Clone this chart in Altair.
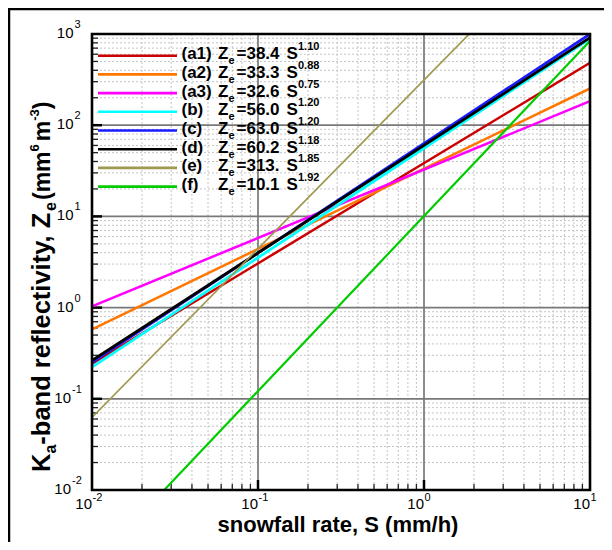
import altair as alt
import pandas as pd

FONT = "Liberation Sans"

# ---------------- data ----------------
series = ["a1", "a2", "a3", "b", "c", "d", "e", "f"]
label_ids = ["(a1)", "(a2)", "(a3)", "(b)", "(c)", "(d)", "(e)", "(f)"]
coef_labels = ["=38.4", "=33.3", "=32.6", "=56.0", "=63.0", "=60.2", "=313.", "=10.1"]
exp_labels = ["1.10", "0.88", "0.75", "1.20", "1.20", "1.18", "1.85", "1.92"]
s_low = [0.01] * 8
s_high = [10.0] * 8
z_low = [0.2423, 0.5787, 1.031, 0.2229, 0.2508, 0.2628, 0.06245, 0.00146]
z_high = [483.4, 252.6, 183.3, 887.5, 998.5, 911.2, 22158.0, 840.2]
colors = ["#cc0000", "#ff7700", "#ff00ff", "#00ffff", "#1a1aff", "#000000", "#a09a50", "#00cc00"]
line_w = [2.5, 2.5, 2.5, 2.8, 2.8, 2.8, 1.7, 2.2]

x_major = [0.1, 1.0]
y_major = [0.1, 1.0, 10.0, 100.0]
x_minor = [m * 10.0 ** k for k in (-2, -1, 0) for m in range(2, 10)]
y_minor = [m * 10.0 ** k for k in (-2, -1, 0, 1, 2) for m in range(2, 10)]
x_tick_vals = [0.01, 0.1, 1.0, 10.0]
x_tick_exp = ["-2", "-1", "0", "1"]
y_tick_vals = [0.01, 0.1, 1.0, 10.0, 100.0, 1000.0]
y_tick_exp = ["-2", "-1", "0", "1", "2", "3"]

W, H = 498, 456

xs = alt.Scale(type="log", domain=[0.01, 10], nice=False)
ys = alt.Scale(type="log", domain=[0.01, 1000], nice=False)

# Arial-bold advance widths (per 1000 em) for layout of rich text pieces
AW = {" ": 278, "(": 333, ")": 333, "-": 333, ",": 278, ".": 278, "/": 278, "=": 584,
      "a": 556, "b": 611, "c": 556, "d": 611, "e": 556, "f": 333, "h": 611, "i": 278,
      "l": 278, "m": 889, "n": 611, "o": 611, "r": 389, "s": 556, "t": 333, "v": 556,
      "w": 778, "y": 556, "K": 722, "S": 667, "Z": 611}
for dgt in "0123456789":
    AW[dgt] = 556


def tw(s, size):
    return sum(AW.get(ch, 556) for ch in s) / 1000.0 * size


dummy = alt.Data(values=[{"k": 0}])


def T(text, x, y, size, bold=True, angle=0, align="left", baseline="alphabetic"):
    return alt.Chart(dummy).mark_text(
        text=text, fontSize=size, fontWeight="bold" if bold else "normal", font=FONT,
        angle=angle, align=align, baseline=baseline, color="black"
    ).encode(x=alt.value(x), y=alt.value(y))


# ---------------- grid ----------------
minor_x = alt.Chart(pd.DataFrame({"v": x_minor})).mark_rule(
    color="#c4c4c4", strokeWidth=1, strokeDash=[2, 2]).encode(x=alt.X("v:Q", scale=xs, axis=None))
minor_y = alt.Chart(pd.DataFrame({"v": y_minor})).mark_rule(
    color="#c4c4c4", strokeWidth=1, strokeDash=[2, 2]).encode(y=alt.Y("v:Q", scale=ys, axis=None))
major_x = alt.Chart(pd.DataFrame({"v": x_major})).mark_rule(
    color="#787878", strokeWidth=1.7).encode(x=alt.X("v:Q", scale=xs, axis=None))
major_y = alt.Chart(pd.DataFrame({"v": y_major})).mark_rule(
    color="#787878", strokeWidth=1.7).encode(y=alt.Y("v:Q", scale=ys, axis=None))

# ---------------- ticks (inside, left & bottom) ----------------
tick_minor_y = alt.Chart(pd.DataFrame({"v": y_minor})).mark_rule(color="#222222", strokeWidth=1.3).encode(
    y=alt.Y("v:Q", scale=ys, axis=None), x=alt.value(0), x2=alt.value(6))
tick_major_y = alt.Chart(pd.DataFrame({"v": y_major})).mark_rule(color="black", strokeWidth=2.5).encode(
    y=alt.Y("v:Q", scale=ys, axis=None), x=alt.value(0), x2=alt.value(10))
tick_minor_x = alt.Chart(pd.DataFrame({"v": x_minor})).mark_rule(color="#222222", strokeWidth=1.3).encode(
    x=alt.X("v:Q", scale=xs, axis=None), y=alt.value(H), y2=alt.value(H - 6))
tick_major_x = alt.Chart(pd.DataFrame({"v": x_major})).mark_rule(color="black", strokeWidth=2.5).encode(
    x=alt.X("v:Q", scale=xs, axis=None), y=alt.value(H), y2=alt.value(H - 10))

# ---------------- curves ----------------
rows = []
for i, s in enumerate(series):
    rows.append({"series": s, "S": s_low[i], "Z": z_low[i], "w": line_w[i], "o": i})
    rows.append({"series": s, "S": s_high[i], "Z": z_high[i], "w": line_w[i], "o": i})
lines_df = pd.DataFrame(rows)
curves = alt.Chart(lines_df).mark_line(clip=True).encode(
    x=alt.X("S:Q", scale=xs, axis=None),
    y=alt.Y("Z:Q", scale=ys, axis=None),
    color=alt.Color("series:N", scale=alt.Scale(domain=series, range=colors), legend=None),
    strokeWidth=alt.StrokeWidth("w:Q", scale=None),
    detail="series:N",
)

# ---------------- legend (inside plot) ----------------
leg_y = [10 ** (3 - (21.7 + 18.7 * i) / 91.2) for i in range(8)]
leg_df = pd.DataFrame({"series": series, "id": label_ids, "coef": coef_labels,
                       "exp": exp_labels, "ly": leg_y})
leg_lines = alt.Chart(leg_df).mark_rule(strokeWidth=2.6).encode(
    y=alt.Y("ly:Q", scale=ys, axis=None), x=alt.value(6), x2=alt.value(85),
    color=alt.Color("series:N", scale=alt.Scale(domain=series, range=colors), legend=None))


def leg_text(field, x, size, dy, const=None):
    m = alt.Chart(leg_df).mark_text(align="left", baseline="middle", fontSize=size,
                                    fontWeight="bold", font=FONT, dy=dy, color="black",
                                    **({"text": const} if const else {}))
    enc = dict(y=alt.Y("ly:Q", scale=ys, axis=None), x=alt.value(x))
    if not const:
        enc["text"] = alt.Text(field + ":N")
    return m.encode(**enc)


leg_parts = [
    leg_text("id", 89.5, 17, -1.5),
    leg_text(None, 126, 17, -1.5, const="Z"),
    leg_text(None, 136.5, 11, 5.5, const="e"),
    leg_text("coef", 144.5, 17, -1.5),
    leg_text(None, 194.5, 17, -1.5, const="S"),
    leg_text("exp", 206, 11, -8.5),
]

# ---------------- frame ----------------
frame = alt.Chart(dummy).mark_rect(filled=False, stroke="black", strokeWidth=2.6).encode(
    x=alt.value(0), x2=alt.value(W), y=alt.value(0), y2=alt.value(H))

# ---------------- tick labels ----------------
xt = pd.DataFrame({"v": x_tick_vals, "exp": x_tick_exp})
xlab = alt.Chart(xt).mark_text(align="right", baseline="alphabetic", fontSize=15, font=FONT,
                               text="10", color="black").encode(
    x=alt.X("v:Q", scale=xs, axis=None), y=alt.value(H + 19))
xsup = alt.Chart(xt).mark_text(align="left", baseline="alphabetic", fontSize=11, font=FONT,
                               dx=0.5, color="black").encode(
    x=alt.X("v:Q", scale=xs, axis=None), y=alt.value(H + 11), text="exp:N")

yt = pd.DataFrame({"v": y_tick_vals, "exp": y_tick_exp})
yt_neg = yt[yt["exp"].str.startswith("-")]
yt_pos = yt[~yt["exp"].str.startswith("-")]


def ylabels(df, xr):
    a = alt.Chart(df).mark_text(align="right", baseline="middle", fontSize=15, font=FONT,
                                text="10", dy=-1, color="black").encode(
        y=alt.Y("v:Q", scale=ys, axis=None), x=alt.value(xr))
    b = alt.Chart(df).mark_text(align="left", baseline="middle", fontSize=11, font=FONT,
                                dy=-9, color="black").encode(
        y=alt.Y("v:Q", scale=ys, axis=None), x=alt.value(xr + 1), text="exp:N")
    return [a, b]


ylabs = ylabels(yt_neg, -21) + ylabels(yt_pos, -18.5)

# ---------------- axis titles ----------------
xtitle = T("snowfall rate, S (mm/h)", 246, H + 42, 22, align="center")

base_x = -42
# (text, font size, baseline shift, gap before piece)
pieces = [("K", 25.5, 0, 0), ("a", 16, 6, 0), ("-band reflectivity, Z", 25.5, 0, 0), ("e", 16, 6, 0),
          ("(mm", 23, 0, 2), ("6", 13, -11, 0), ("m", 23, 0, 3), ("-3", 13, -11, 0), (")", 23, 0, 0)]
ytitle = []
ypos = 438
for txt, sz, off, gap in pieces:
    ypos -= gap
    ytitle.append(T(txt, base_x + off, ypos, sz, angle=270))
    ypos -= tw(txt, sz)

# ---------------- outer border (top & left) ----------------
border_top = alt.Chart(dummy).mark_rule(color="black", strokeWidth=2.5).encode(
    x=alt.value(-84), x2=alt.value(W + 14), y=alt.value(-25))
border_left = alt.Chart(dummy).mark_rule(color="black", strokeWidth=2.5).encode(
    x=alt.value(-83), y=alt.value(-26), y2=alt.value(H + 52))

chart = alt.layer(
    minor_x, minor_y, major_x, major_y,
    tick_minor_y, tick_major_y, tick_minor_x, tick_major_x,
    curves, leg_lines, *leg_parts, frame,
    xlab, xsup, *ylabs, xtitle, *ytitle, border_top, border_left,
).properties(
    width=W, height=H,
    autosize=alt.AutoSizeParams(type="none"),
    padding={"left": 84, "top": 26, "right": 14, "bottom": 52},
).configure_view(stroke=None)

chart.save("out.html", embed_options={"renderer": "svg", "actions": False})
